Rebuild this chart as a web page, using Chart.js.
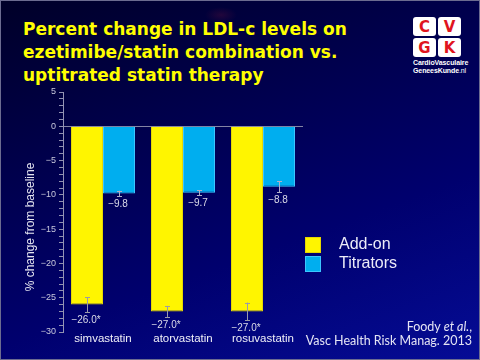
<!DOCTYPE html>
<html><head><meta charset="utf-8">
<script src="https://cdn.jsdelivr.net/npm/chart.js@4"></script>
<style>
html,body{margin:0;padding:0;}
body{width:480px;height:360px;overflow:hidden;position:relative;font-family:"Liberation Sans",Arial,sans-serif;}
#bg{position:absolute;left:0;top:0;width:478px;height:358px;border:1px solid #6c6c90;
 background:
  radial-gradient(ellipse 16px 8px at 220px 14px, rgba(110,20,60,0.30), rgba(110,20,60,0) 100%),
  linear-gradient(160deg,#000028 0%,#00004e 35%,#00006e 65%,#050c96 100%);}
#title{position:absolute;left:23px;top:18px;color:#ffff00;font:bold 17px "DejaVu Sans",sans-serif;line-height:23px;white-space:nowrap;}
#chartbox{position:absolute;left:0;top:0;width:480px;height:360px;}
#logo{position:absolute;left:413px;top:17px;width:48px;}
#logo .grid{display:grid;grid-template-columns:23px 23px;grid-template-rows:19px 19px;gap:2px;}
#logo .grid div{background:#fff;border-radius:3px;color:#e0141e;font:bold 15px "DejaVu Sans",sans-serif;display:flex;align-items:center;justify-content:center;}
#logo .t{color:#fff;font:bold 7px "Liberation Sans Narrow","Liberation Sans",sans-serif;line-height:8px;white-space:nowrap;margin-top:2px;letter-spacing:-0.1px;}
#legend{position:absolute;left:305px;top:237px;width:150px;color:#ececf8;font:16px "Liberation Sans",Arial,sans-serif;}
#legend .row{position:relative;height:18.5px;}
#legend .sw{position:absolute;left:0;width:14px;height:14px;top:0;}
#legend .lb{position:absolute;left:34px;top:-1px;line-height:16px;white-space:nowrap;}
#cite{position:absolute;right:8px;top:320px;text-align:right;color:#e4e4f4;font:12.5px Lato,"Liberation Sans",sans-serif;line-height:14px;white-space:nowrap;}
</style>
</head><body>
<div id="bg"></div>
<div id="title">Percent change in LDL-c levels on<br>ezetimibe/statin combination vs.<br>uptitrated statin therapy</div>
<div id="logo"><div class="grid"><div>C</div><div>V</div><div>G</div><div>K</div></div>
<div class="t">CardioVasculaire<br>GeneesKunde<span style="font-weight:normal">.nl</span></div></div>
<div id="chartbox"><canvas id="c" width="480" height="360"></canvas></div>
<div id="legend"></div>
<div id="cite">Foody <i>et al.</i>,<br>Vasc Health Risk Manag. 2013</div>
<script>
const categories = ['simvastatin', 'atorvastatin', 'rosuvastatin'];
const seriesNames = ['Add-on', 'Titrators'];
const addOnValues = [-26.0, -27.0, -27.0];
const titratorValues = [-9.8, -9.7, -8.8];
const addOnErrors = [1.1, 0.8, 1.3];
const titratorErrors = [0.4, 0.35, 0.8];
const addOnLabels = ['\u221226.0*', '\u221227.0*', '\u221227.0*'];
const titratorLabels = ['\u22129.8', '\u22129.7', '\u22128.8'];
const yMin = -30, yMax = 5, yMajorStep = 5;
const yTitle = '% change from baseline';
const seriesColors = ['#fff500', '#00aeef'];
const seriesBorders = ['#e6d800', '#3cc6ff'];

const errPlugin = {
  id: 'errbars',
  afterDatasetsDraw(chart) {
    const ctx = chart.ctx, ys = chart.scales.y;
    chart.data.datasets.forEach((ds, i) => {
      const meta = chart.getDatasetMeta(i);
      meta.data.forEach((bar, j) => {
        const v = ds.data[j], e = ds.errors[j];
        const yTop = ys.getPixelForValue(v + e), yBot = ys.getPixelForValue(v - e);
        const x = Math.round(bar.x) + 0.5;
        ctx.save();
        ctx.strokeStyle = ds.errColor; ctx.lineWidth = 1;
        ctx.beginPath();
        ctx.moveTo(x, yTop); ctx.lineTo(x, yBot);
        ctx.moveTo(x - 2.5, Math.round(yTop) + 0.5); ctx.lineTo(x + 2.5, Math.round(yTop) + 0.5);
        ctx.moveTo(x - 2.5, Math.round(yBot) + 0.5); ctx.lineTo(x + 2.5, Math.round(yBot) + 0.5);
        ctx.stroke();
        ctx.fillStyle = '#dadae8';
        ctx.font = '10px "Liberation Sans Narrow","Liberation Sans",sans-serif';
        ctx.textAlign = 'center'; ctx.textBaseline = 'middle';
        ctx.fillText(ds.valueLabels[j], bar.x - 1, yBot + 8);
        ctx.restore();
      });
    });
  }
};

const chart = new Chart(document.getElementById('c'), {
  type: 'bar',
  data: {
    labels: categories,
    datasets: [
      { label: seriesNames[0], data: addOnValues, errors: addOnErrors, valueLabels: addOnLabels,
        backgroundColor: seriesColors[0], borderColor: seriesBorders[0], borderWidth: 1, errColor: '#9a9aa8' },
      { label: seriesNames[1], data: titratorValues, errors: titratorErrors, valueLabels: titratorLabels,
        backgroundColor: seriesColors[1], borderColor: seriesBorders[1], borderWidth: 1, errColor: '#b0b0c8' }
    ]
  },
  options: {
    responsive: false, maintainAspectRatio: false, animation: false, devicePixelRatio: 1,
    layout: { padding: { left: 0, top: 92, right: 177, bottom: 0 } },
    datasets: { bar: { categoryPercentage: 0.8, barPercentage: 1.0 } },
    plugins: { legend: { display: false }, tooltip: { enabled: false } },
    scales: {
      x: {
        grid: { display: false, drawTicks: false }, border: { display: false },
        ticks: { color: '#f0f0f8', font: { size: 11.5, family: '"Liberation Sans",Arial,sans-serif' }, padding: 0 },
        afterFit(s) { s.height = 28; }
      },
      y: {
        min: yMin, max: yMax,
        ticks: {
          stepSize: 1, autoSkip: false, color: '#c8c8dc', padding: 3,
          font: { size: 9, family: '"Liberation Sans",Arial,sans-serif' },
          callback: v => (v % yMajorStep === 0 ? (v < 0 ? '\u2212' + Math.abs(v) : String(v)) : '')
        },
        grid: {
          drawOnChartArea: true, tickLength: 4, lineWidth: 1,
          color: c => (c.tick && c.tick.value === 0 ? '#8484a4' : 'rgba(0,0,0,0)'),
          tickColor: '#9090b0'
        },
        border: { display: true, color: '#9494b4' },
        title: { display: true, text: yTitle + '\u00a0'.repeat(9), color: '#e4e4f0',
          font: { size: 12, family: '"Liberation Sans",Arial,sans-serif' }, padding: { top: 23, bottom: 0 } },
        afterFit(s) { s.width = 63; }
      }
    }
  },
  plugins: [errPlugin]
});

const leg = document.getElementById('legend');
chart.data.datasets.forEach(ds => {
  const r = document.createElement('div'); r.className = 'row';
  const sw = document.createElement('div'); sw.className = 'sw';
  sw.style.background = ds.backgroundColor; sw.style.border = '1px solid ' + ds.borderColor;
  const lb = document.createElement('div'); lb.className = 'lb'; lb.textContent = ds.label;
  r.appendChild(sw); r.appendChild(lb); leg.appendChild(r);
});
</script>
</body></html>
